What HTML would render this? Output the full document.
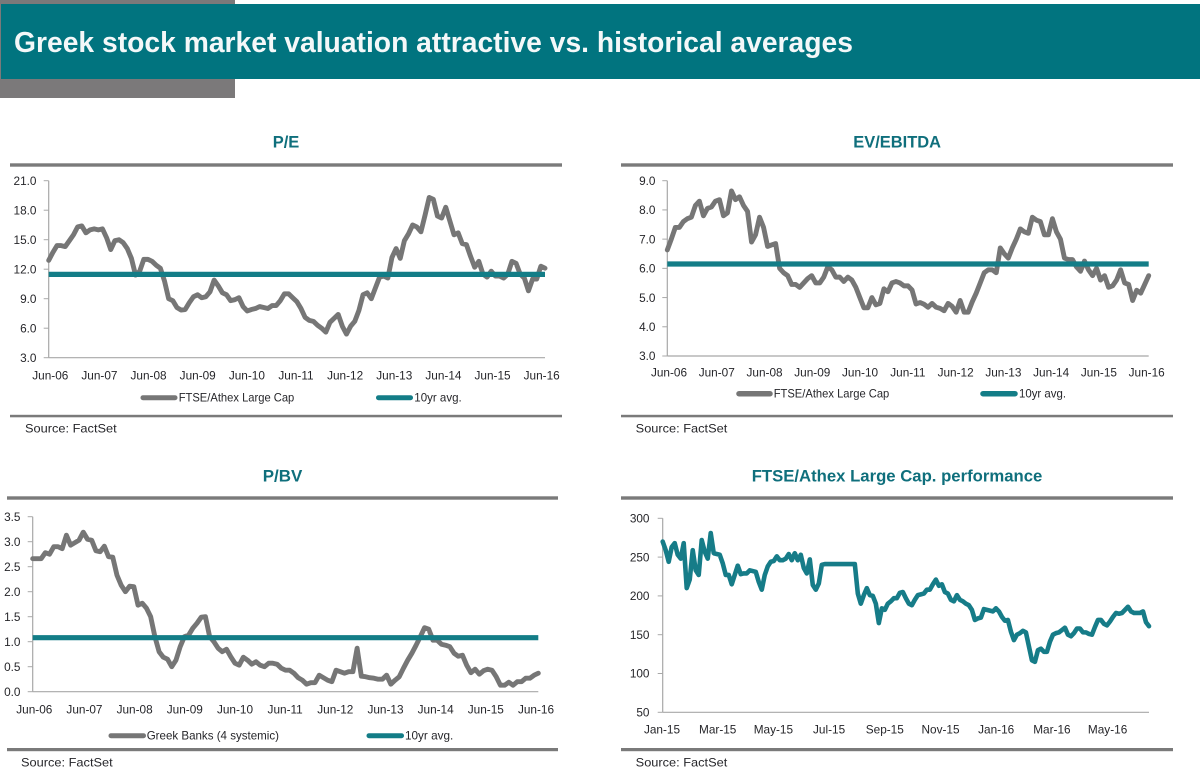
<!DOCTYPE html>
<html lang="en">
<head>
<meta charset="utf-8">
<title>Greek stock market valuation</title>
<style>
html,body{margin:0;padding:0;background:#fff;}
svg{display:block;font-family:"Liberation Sans",sans-serif;}
.t{font-weight:bold;fill:#0f6f7c;font-size:17px;}
.l{font-size:11.8px;fill:#26262a;}
</style>
</head>
<body>
<svg id="page" width="1200" height="781" viewBox="0 0 1200 781" xmlns="http://www.w3.org/2000/svg">
<rect width="1200" height="781" fill="#fff"/>
<rect x="0" y="0" width="235" height="98" fill="#7b797a"/>
<rect x="1" y="4" width="1199" height="75" fill="#01747f"/>
<text x="14" y="52" font-size="28.5" font-weight="bold" fill="#f4f8f9" textLength="839" lengthAdjust="spacingAndGlyphs">Greek stock market valuation attractive vs. historical averages</text>

<rect x="10" y="163.3" width="552" height="3.4" fill="#7a7a7a"/>
<rect x="10" y="414.8" width="552" height="2.5" fill="#7a7a7a"/>
<rect x="621" y="163.3" width="552" height="3.4" fill="#7a7a7a"/>
<rect x="621" y="414.8" width="552" height="2.5" fill="#7a7a7a"/>
<rect x="7" y="496.3" width="551" height="3.4" fill="#7a7a7a"/>
<rect x="7" y="748" width="551" height="3.2" fill="#7a7a7a"/>
<rect x="621" y="496.3" width="552" height="3.4" fill="#7a7a7a"/>
<rect x="621" y="748" width="552" height="3.2" fill="#7a7a7a"/>

<text class="t" x="272.7" y="147.3" textLength="26.6" lengthAdjust="spacingAndGlyphs">P/E</text>
<text class="t" x="853.3" y="147.3" textLength="87.7" lengthAdjust="spacingAndGlyphs">EV/EBITDA</text>
<text class="t" x="262.7" y="481.7" textLength="39.6" lengthAdjust="spacingAndGlyphs">P/BV</text>
<text class="t" x="751.7" y="481.7" textLength="290.6" lengthAdjust="spacingAndGlyphs">FTSE/Athex Large Cap. performance</text>

<text class="l" x="25" y="432.5" textLength="91.7" lengthAdjust="spacingAndGlyphs">Source: FactSet</text>
<text class="l" x="635.7" y="432.5" textLength="91.6" lengthAdjust="spacingAndGlyphs">Source: FactSet</text>
<text class="l" x="21" y="766.5" textLength="91.7" lengthAdjust="spacingAndGlyphs">Source: FactSet</text>
<text class="l" x="635.7" y="766.5" textLength="91.6" lengthAdjust="spacingAndGlyphs">Source: FactSet</text>

<line x1="143" y1="397.7" x2="175" y2="397.7" stroke="#767676" stroke-width="5" stroke-linecap="round"/>
<text class="l" x="178.7" y="401.7" textLength="115.6" lengthAdjust="spacingAndGlyphs">FTSE/Athex Large Cap</text>
<line x1="378.5" y1="397.7" x2="410.5" y2="397.7" stroke="#137d87" stroke-width="5" stroke-linecap="round"/>
<text class="l" x="414.3" y="401.7" textLength="47.4" lengthAdjust="spacingAndGlyphs">10yr avg.</text>

<line x1="739" y1="393.7" x2="770" y2="393.7" stroke="#767676" stroke-width="5.5" stroke-linecap="round"/>
<text class="l" x="773.7" y="397.7" textLength="115.6" lengthAdjust="spacingAndGlyphs">FTSE/Athex Large Cap</text>
<line x1="983" y1="393.7" x2="1015" y2="393.7" stroke="#137d87" stroke-width="5.5" stroke-linecap="round"/>
<text class="l" x="1019" y="397.7" textLength="47" lengthAdjust="spacingAndGlyphs">10yr avg.</text>

<line x1="111" y1="735.7" x2="143.5" y2="735.7" stroke="#767676" stroke-width="5" stroke-linecap="round"/>
<text class="l" x="146.7" y="739.5" textLength="132.3" lengthAdjust="spacingAndGlyphs">Greek Banks (4 systemic)</text>
<line x1="369" y1="735.7" x2="401.5" y2="735.7" stroke="#137d87" stroke-width="5" stroke-linecap="round"/>
<text class="l" x="405" y="739.5" textLength="48.3" lengthAdjust="spacingAndGlyphs">10yr avg.</text>
</svg>

<script>
const peValues = [
12.9,13.7,14.4,14.4,14.3,14.9,15.5,16.3,16.4,15.7,
16.0,16.1,16.0,16.1,15.2,14.0,14.9,15.0,14.7,14.1,
13.1,11.4,11.8,13.0,13.0,12.8,12.4,12.1,10.8,9.0,
8.8,8.1,7.85,7.9,8.6,9.2,9.4,9.1,9.2,9.7,
10.9,10.3,9.6,9.4,8.8,8.9,9.1,8.2,7.75,7.9,
8.0,8.2,8.1,8.0,8.3,8.3,8.8,9.5,9.5,9.1,
8.7,8.0,7.1,6.8,6.7,6.3,6.0,5.6,6.6,7.0,
7.4,6.2,5.4,6.2,6.7,7.8,9.4,9.6,9.0,10.1,
11.2,11.3,11.1,13.2,14.1,13.1,14.9,15.6,16.5,16.3,
15.8,17.5,19.3,19.1,17.4,17.2,18.3,16.9,15.5,15.7,
14.6,14.5,13.3,12.2,12.8,11.5,11.2,11.8,11.3,11.3,
11.1,11.5,12.8,12.6,11.5,11.1,9.8,11.0,11.0,12.3,12.1];
const peAverage = [11.47];
const peYTicks = ["3.0","6.0","9.0","12.0","15.0","18.0","21.0"];

const evValues = [
6.63,7.0,7.4,7.4,7.6,7.7,7.75,8.15,8.3,7.8,
8.05,8.1,8.3,8.35,7.8,7.9,8.65,8.35,8.45,8.15,
7.95,6.9,7.15,7.75,7.4,6.75,6.8,6.85,6.0,5.85,
5.75,5.45,5.45,5.35,5.5,5.65,5.75,5.5,5.5,5.7,
6.05,5.95,5.7,5.7,5.55,5.7,5.6,5.35,5.0,4.65,
4.65,5.0,4.75,4.8,5.3,5.2,5.5,5.55,5.5,5.4,
5.4,5.26,4.78,4.83,4.77,4.67,4.8,4.67,4.63,4.55,
4.8,4.7,4.5,4.9,4.5,4.5,4.85,5.15,5.5,5.85,
5.95,5.95,5.85,6.7,6.5,6.35,6.7,7.0,7.35,7.25,
7.2,7.75,7.65,7.6,7.15,7.15,7.7,7.25,7.0,6.35,
6.3,6.3,6.05,5.9,6.25,5.95,5.75,6.0,5.6,5.75,
5.35,5.4,5.6,5.95,5.5,5.45,4.9,5.25,5.15,5.45,5.75];
const evAverage = [6.15];
const evYTicks = ["3.0","4.0","5.0","6.0","7.0","8.0","9.0"];

const pbvValues = [
2.66,2.66,2.66,2.78,2.75,2.9,2.9,2.86,3.13,2.93,
2.98,3.03,3.19,3.05,3.03,2.82,2.8,2.91,2.7,2.69,
2.33,2.13,2.0,2.11,2.1,1.73,1.77,1.67,1.5,1.1,
0.8,0.69,0.65,0.5,0.63,0.9,1.1,1.13,1.27,1.37,
1.49,1.5,1.1,1.0,0.87,0.8,0.85,0.7,0.57,0.53,
0.69,0.63,0.55,0.6,0.53,0.5,0.57,0.57,0.55,0.47,
0.43,0.43,0.37,0.28,0.23,0.15,0.18,0.18,0.33,0.28,
0.23,0.2,0.43,0.4,0.37,0.4,0.4,0.87,0.31,0.3,
0.28,0.27,0.25,0.25,0.33,0.15,0.23,0.3,0.47,0.63,
0.77,0.93,1.1,1.28,1.25,1.03,1.03,0.95,0.93,0.9,
0.77,0.71,0.73,0.53,0.38,0.45,0.35,0.42,0.45,0.43,
0.3,0.13,0.13,0.19,0.13,0.2,0.2,0.27,0.27,0.33,0.37];
const pbvAverage = [1.08];
const pbvYTicks = ["0.0","0.5","1.0","1.5","2.0","2.5","3.0","3.5"];

const monthlyXLabels = ["Jun-06","Jun-07","Jun-08","Jun-09","Jun-10","Jun-11","Jun-12","Jun-13","Jun-14","Jun-15","Jun-16"];

const performanceValues = [
270,259,244,263,268,253,248,268,210,221,
259,233,227,272,257,248,281,255,254,253,
242,227,227,215,227,239,228,229,229,233,
232,231,218,208,227,238,244,245,251,246,
246,248,254,246,255,246,253,236,229,247,
214,208,216,240,241,241,241,241,241,241,
241,241,241,241,241,203,190,201,210,201,
200,190,165,184,182,190,193,197,197,204,
205,197,190,188,195,201,202,203,208,208,
215,221,213,215,205,203,195,193,201,195,
193,190,188,182,169,171,172,183,182,181,
180,184,180,173,168,169,154,143,150,152,
155,153,135,117,115,130,132,128,128,141,
150,152,153,156,159,150,148,152,158,158,
153,153,151,150,160,169,169,164,162,167,
173,178,177,178,182,186,180,178,178,178,
180,166,161];
const performanceYTicks = ["50","100","150","200","250","300"];
const performanceXLabels = ["Jan-15","Mar-15","May-15","Jul-15","Sep-15","Nov-15","Jan-16","Mar-16","May-16"];

const NS = "http://www.w3.org/2000/svg";
const svg = document.getElementById("page");

function make(tag, props, parent) {
  const el = document.createElementNS(NS, tag);
  for (const k in props) el.setAttribute(k, props[k]);
  (parent || svg).appendChild(el);
  return el;
}

function drawChart(id, c) {
  const xAt = i => c.x0 + (c.x1 - c.x0) * i / (c.values.length - 1);
  const yAt = v => c.y1 - (c.y1 - c.y0) * (v - c.min) / (c.max - c.min);

  const group = make("g", {});
  
  

  const yAxis = make("line", {x1: c.x0, y1: c.y0, x2: c.x0, y2: c.y1, stroke: "#a8a8a8", "stroke-width": 1.2}, group);
  
  

  const xAxis = make("line", {x1: c.x0, y1: c.y1, x2: c.x1, y2: c.y1, stroke: "#a8a8a8", "stroke-width": 1.2}, group);
  
  

  c.yTicks.forEach(label => {
    const y = yAt(parseFloat(label));
    const mark = make("line", {x1: c.x0 - 5, y1: y, x2: c.x0, y2: y, stroke: "#a8a8a8", "stroke-width": 1}, group);
    
    
    const t = make("text", {x: c.yLabelX, y: y + 4.2, "text-anchor": "end", class: "l"}, group);
    
    
    t.textContent = label;
  });

  c.xLabels.forEach((label, i) => {
    const x = c.labelX0 + i * c.labelStep;
    const t = make("text", {x: x, y: c.xLabelY, "text-anchor": "middle", class: "l"}, group);
    
    
    t.textContent = label;
  });

  const points = c.values.map((v, i) => xAt(i).toFixed(2) + "," + yAt(v).toFixed(2)).join(" ");
  const line = make("polyline", {points: points, fill: "none", stroke: c.color, "stroke-width": c.width, "stroke-linejoin": "round", "stroke-linecap": "round"}, group);
  
  

  if (c.average) {
    const avg = make("line", {x1: c.x0, y1: yAt(c.average[0]), x2: c.x1, y2: yAt(c.average[0]), stroke: "#137d87", "stroke-width": 5.2}, group);
    
    
  }
}

drawChart("pe", {values: peValues, average: peAverage, yTicks: peYTicks, xLabels: monthlyXLabels,
  x0: 48.7, x1: 545, y0: 180.7, y1: 357.7, min: 3, max: 21, yLabelX: 36.5,
  labelX0: 50.3, labelStep: 49.14, xLabelY: 379.3, color: "#767676", width: 4.9});

drawChart("ev", {values: evValues, average: evAverage, yTicks: evYTicks, xLabels: monthlyXLabels,
  x0: 667.3, x1: 1148.7, y0: 180.7, y1: 356, min: 3, max: 9, yLabelX: 655.5,
  labelX0: 669, labelStep: 47.77, xLabelY: 376.7, color: "#767676", width: 4.9});

drawChart("pbv", {values: pbvValues, average: pbvAverage, yTicks: pbvYTicks, xLabels: monthlyXLabels,
  x0: 32.7, x1: 538.3, y0: 516.7, y1: 691.7, min: 0, max: 3.5, yLabelX: 20.5,
  labelX0: 34.3, labelStep: 50.17, xLabelY: 713.3, color: "#767676", width: 4.9});

drawChart("performance", {values: performanceValues, yTicks: performanceYTicks, xLabels: performanceXLabels,
  x0: 662.7, x1: 1149, y0: 518.3, y1: 712.3, min: 50, max: 300, yLabelX: 649.5,
  labelX0: 662, labelStep: 55.7, xLabelY: 733.3, color: "#167c88", width: 4.6});
</script>
</body>
</html>
